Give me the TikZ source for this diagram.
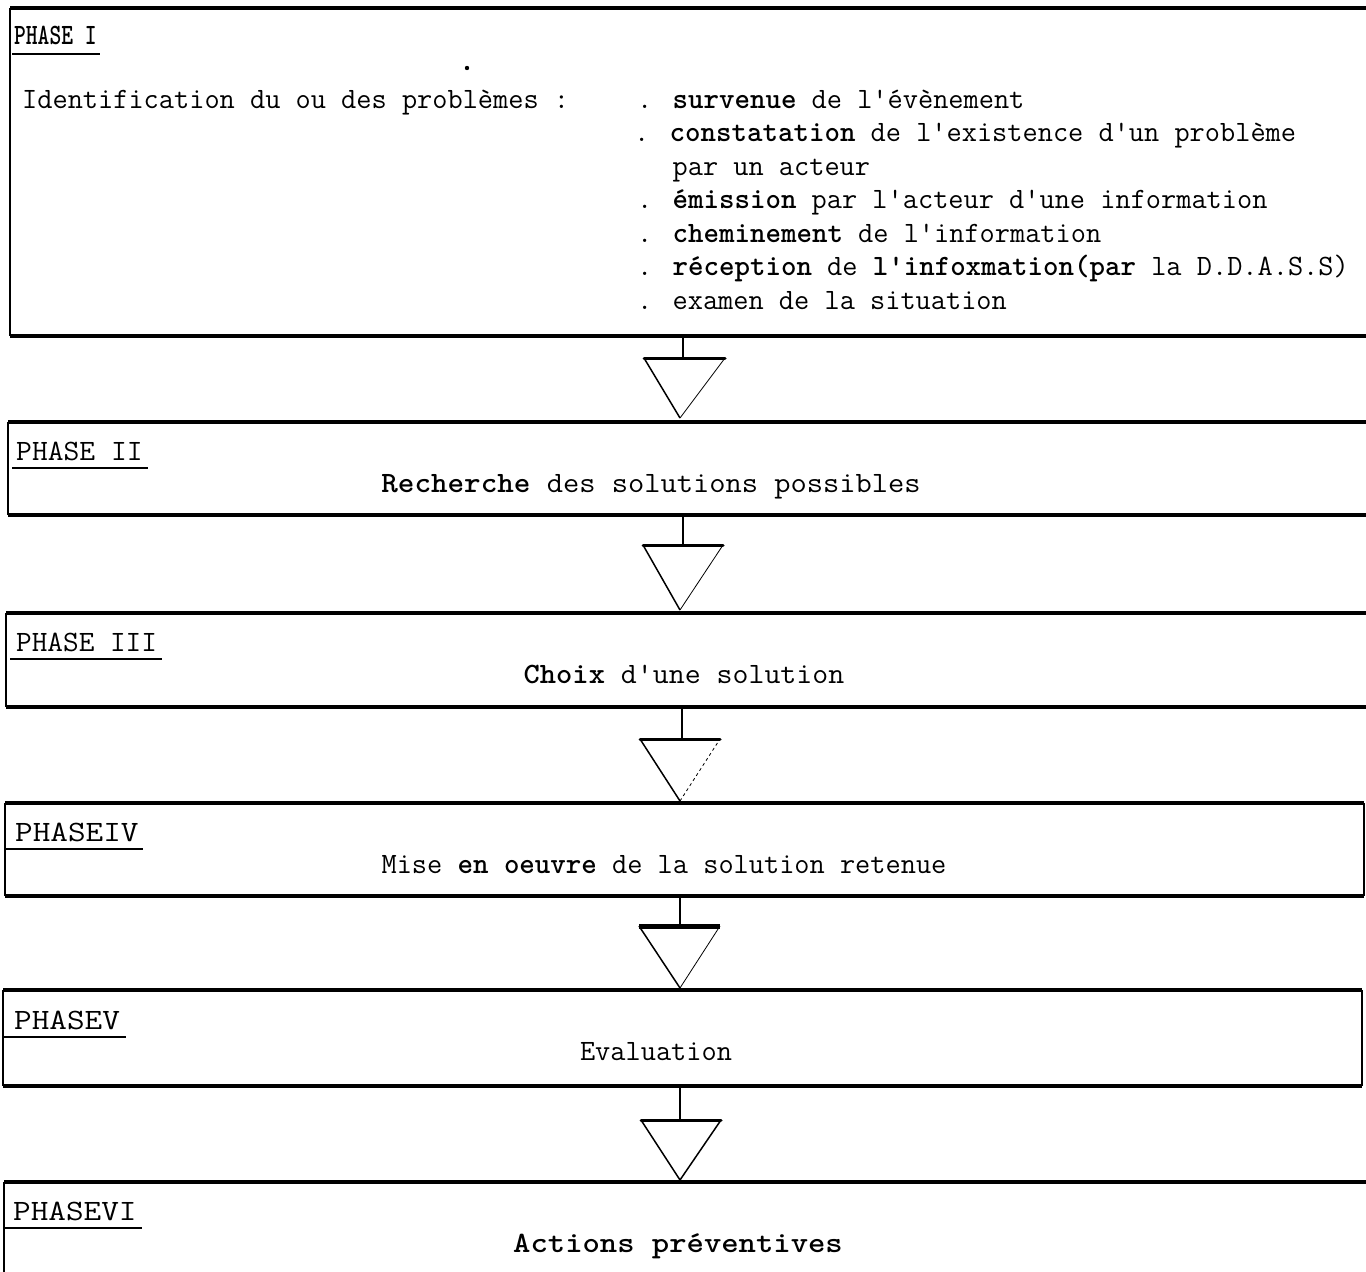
\documentclass[tikz,border=0pt]{standalone}
\usepackage{fontspec}
\begin{document}
\begin{tikzpicture}[x=1pt,y=-1pt,
  box/.style={rectangle,draw=none,inner sep=0pt,outer sep=0pt,anchor=north west},
  hline/.style={line width=3.5pt},
  vline/.style={line width=2pt},
  uline/.style={line width=2pt},
  stem/.style={line width=2pt},
  tritop/.style={line width=3pt,line cap=round},
  triside/.style={line width=1.5pt,line join=round},
  faint/.style={line width=0.8pt},
  lbl/.style={anchor=base west,inner sep=0pt,font=\ttfamily\fontsize{29.5}{33}\selectfont},
  txt/.style={anchor=base west,inner sep=0pt,font=\ttfamily\fontsize{29.5}{33}\selectfont},
  ctxt/.style={anchor=base,inner sep=0pt,font=\ttfamily\fontsize{29.5}{33}\selectfont}]
\useasboundingbox (0,0) rectangle (1366,1272);
\fill[white] (0,0) rectangle (1366,1272);

% ---------------- boxes ----------------
\node[box,minimum width=1356pt,minimum height=328pt] (p1) at (10,8) {};
\node[box,minimum width=1358pt,minimum height=93pt] (p2) at (8,422) {};
\node[box,minimum width=1360pt,minimum height=94pt] (p3) at (6,613) {};
\node[box,minimum width=1359pt,minimum height=93pt] (p4) at (5,803) {};
\node[box,minimum width=1359pt,minimum height=96pt] (p5) at (3,990) {};
\node[box,minimum width=1362pt,minimum height=90pt] (p6) at (4,1182) {};

% box 1
\draw[hline] (p1.north west) -- (p1.north east);
\draw[hline] (p1.south west) -- (p1.south east);
\draw[vline] (p1.north west) -- (p1.south west);
% box 2
\draw[hline] (p2.north west) -- (p2.north east);
\draw[hline] (p2.south west) -- (p2.south east);
\draw[vline] (p2.north west) -- (p2.south west);
% box 3
\draw[hline] (p3.north west) -- (p3.north east);
\draw[hline] (p3.south west) -- (p3.south east);
\draw[vline] (p3.north west) -- (p3.south west);
% box 4
\draw[hline] (p4.north west) -- (p4.north east);
\draw[hline] (p4.south west) -- (p4.south east);
\draw[vline] (p4.north west) -- (p4.south west);
\draw[vline] (p4.north east) -- (p4.south east);
% box 5
\draw[hline] (p5.north west) -- (p5.north east);
\draw[hline] (p5.south west) -- (p5.south east);
\draw[vline] (p5.north west) -- (p5.south west);
\draw[vline] (p5.north east) -- (p5.south east);
% box 6
\draw[hline] (p6.north west) -- (p6.north east);
\draw[vline] (p6.north west) -- (p6.south west);

% ---------------- arrows ----------------
\coordinate (t1) at (683,358);
\coordinate (t2) at (683,545);
\coordinate (t3) at (682,739);
\coordinate (t4) at (680,926);
\coordinate (t5) at (680,1120);

\draw[stem] (p1.south -| t1) -- (t1);
\draw[triside] ([shift={(-39,0)}]t1) -- ([shift={(-3,60)}]t1);
\draw[faint] ([shift={(-3,60)}]t1) -- ([shift={(42,0)}]t1);
\draw[tritop] ([shift={(-39,0)}]t1) -- ([shift={(42,0)}]t1);

\draw[stem] (p2.south -| t2) -- (t2);
\draw[triside] ([shift={(-40,0)}]t2) -- ([shift={(-3,65)}]t2);
\draw[faint] ([shift={(-3,65)}]t2) -- ([shift={(40,0)}]t2);
\draw[tritop] ([shift={(-40,0)}]t2) -- ([shift={(40,0)}]t2);

\draw[stem] (p3.south -| t3) -- (t3);
\draw[triside] ([shift={(-42,0)}]t3) -- ([shift={(-2,62)}]t3);
\draw[faint,dashed] ([shift={(-2,62)}]t3) -- ([shift={(38,0)}]t3);
\draw[tritop] ([shift={(-42,0)}]t3) -- ([shift={(38,0)}]t3);

\draw[stem] (p4.south -| t4) -- (t4);
\draw[triside] ([shift={(-41,0)}]t4) -- ([shift={(0,62)}]t4);
\draw[faint] ([shift={(0,62)}]t4) -- ([shift={(40,0)}]t4);
\draw[line width=5pt] ([shift={(-41,0)}]t4) -- ([shift={(40,0)}]t4);

\draw[stem] (p5.south -| t5) -- (t5);
\draw[triside] ([shift={(-39,0)}]t5) -- ([shift={(0,60)}]t5) -- ([shift={(41,0)}]t5);
\draw[tritop] ([shift={(-39,0)}]t5) -- ([shift={(41,0)}]t5);

% ---------------- texts ----------------
% phase I
\node[lbl] (l1) at (14,44) {\scalebox{0.76}[1]{\textbf{PHASE I}}};
\draw[uline] (12,54) -- (100,54);
\fill (467,68) circle (2.2);
\node[txt] (id) at (22,108) {Identification du ou des problèmes :};
\node[txt] (r1) at (637,108) {. \textbf{survenue} de l'évènement};
\node[txt] (r2) at (634,141) {. \textbf{constatation} de l'existence d'un problème};
\node[txt] (r3) at (637,175) {\phantom{. }par un acteur};
\node[txt] (r4) at (637,208) {. \textbf{émission} par l'acteur d'une information};
\node[txt] (r5) at (637,242) {. \textbf{cheminement} de l'information};
\node[txt] (r6) at (637,275) {. \textbf{réception} de \textbf{l'infoxmation(par} la D.D.A.S.S)};
\node[txt] (r7) at (637,309) {. examen de la situation};

% phase II
\node[lbl] (l2) at (16,460) {\scalebox{1.04}[1]{PHASE II}};
\draw[uline] (12,468) -- (148,468);
\node[ctxt] (m2) at (651,492) {\scalebox{1.07}[1]{\textbf{Recherche} des solutions possibles}};

% phase III
\node[lbl] (l3) at (16,651) {\scalebox{1.03}[1]{PHASE III}};
\draw[uline] (10,659) -- (162,659);
\node[ctxt] (m3) at (684,683) {\scalebox{1.05}[1]{\textbf{Choix} d'une solution}};

% phase IV
\node[lbl] (l4) at (15,841) {\scalebox{1.16}[1]{PHASEIV}};
\draw[uline] (5,849) -- (143,849);
\node[ctxt] (m4) at (664,873) {Mise \textbf{en oeuvre} de la solution retenue};

% phase V
\node[lbl] (l5) at (14,1029) {\scalebox{1.16}[1]{PHASEV}};
\draw[uline] (3,1037) -- (126,1037);
\node[ctxt] (m5) at (656,1060) {Evaluation};

% phase VI
\node[lbl] (l6) at (13,1220) {\scalebox{1.16}[1]{PHASEVI}};
\draw[uline] (4,1228) -- (142,1228);
\node[ctxt] (m6) at (678,1252) {\scalebox{1.12}[1]{\textbf{Actions préventives}}};
\end{tikzpicture}
\end{document}
